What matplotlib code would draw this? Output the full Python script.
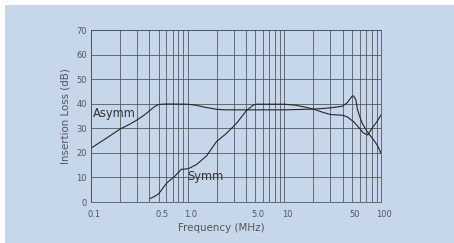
#!/usr/bin/env python3
import numpy as np
import matplotlib
matplotlib.use("Agg")
import matplotlib.pyplot as plt
from matplotlib.patches import Rectangle
from matplotlib.ticker import FixedLocator, NullFormatter
import matplotlib.transforms as mtransforms

# values
asymm_freq = [0.1, 0.15, 0.2, 0.25, 0.3, 0.35, 0.4, 0.45, 0.5, 0.6, 1.0,
              1.2, 1.5, 2.0, 2.5, 5.0, 10, 20, 30, 40, 45, 50, 52, 55, 57,
              60, 64, 72, 84, 92, 100]
asymm_db = [21.9, 26.4, 29.7, 31.6, 33.4, 35.2, 37.0, 38.7, 39.7, 39.9, 39.8,
            39.4, 38.6, 37.7, 37.5, 37.5, 37.5, 37.8, 38.3, 39.0, 40.5, 43.0,
            43.2, 41.5, 37.8, 35.0, 32.0, 28.6, 25.2, 23.0, 19.8]

symm_freq = [0.41, 0.45, 0.5, 0.61, 0.74, 0.86, 1.0, 1.06, 1.24, 1.57, 1.99,
             2.53, 3.2, 4.05, 4.76, 5.1, 10, 13, 16, 20, 25, 30, 40, 45, 52,
             60, 66, 73, 80, 90, 100]
symm_db = [1.4, 2.2, 3.3, 7.8, 10.6, 13.3, 13.5, 13.9, 15.3, 18.8, 24.6,
           28.0, 32.0, 37.2, 39.4, 39.8, 39.8, 39.4, 38.7, 37.8, 36.5, 35.6,
           35.3, 34.6, 32.7, 30.0, 28.0, 27.3, 29.8, 32.5, 35.4]

x_ticks = [0.1, 0.5, 1.0, 5.0, 10, 50, 100]
x_tick_labels = ["0.1", "0.5", "1.0", "5.0", "10", "50", "100"]
y_ticks = [0, 10, 20, 30, 40, 50, 60, 70]

BG = "#c6d6eb"
GRID = "#4d4d4d"
TEXT = "#555555"
CURVE = "#262626"

fig = plt.figure(figsize=(4.54, 2.43), dpi=100)
fig.patch.set_facecolor(BG)
# thin white strips along the top and left edges only
fig.patches.append(Rectangle((0, 238 / 243), 1, 5 / 243,
                             transform=fig.transFigure, facecolor="white",
                             edgecolor="none", zorder=-10))
fig.patches.append(Rectangle((0, 0), 5 / 454, 1,
                             transform=fig.transFigure, facecolor="white",
                             edgecolor="none", zorder=-10))

ax = fig.add_axes([91 / 454, 41 / 243, 290 / 454, 172 / 243])
ax.set_zorder(1)
ax.set_facecolor(BG)
ax.set_xscale("log")
ax.set_xlim(0.1, 100)
ax.set_ylim(0, 70)

minor = [m * 10.0 ** e for e in (-1, 0, 1) for m in range(2, 10)]
ax.xaxis.set_major_locator(FixedLocator(x_ticks))
ax.xaxis.set_minor_locator(FixedLocator(minor))
ax.xaxis.set_minor_formatter(NullFormatter())
ax.set_xticks(x_ticks)
ax.set_xticklabels(x_tick_labels)
ax.set_yticks(y_ticks)

ax.grid(True, which="both", axis="x", color=GRID, lw=0.55)
ax.grid(True, which="major", axis="y", color=GRID, lw=0.55)
for s in ax.spines.values():
    s.set_color(GRID)
    s.set_linewidth(0.55)

ax.tick_params(which="both", length=0)
ax.tick_params(axis="x", labelsize=6, labelcolor=TEXT, pad=6)
ax.tick_params(axis="y", labelsize=6, labelcolor=TEXT, pad=3)

# x labels sit a little right of their grid lines
shift = mtransforms.ScaledTranslation(3 / 100, 0, fig.dpi_scale_trans)
for lab in ax.get_xticklabels():
    lab.set_transform(lab.get_transform() + shift)

ax.plot(asymm_freq, asymm_db, color=CURVE, lw=0.8)
ax.plot(symm_freq, symm_db, color=CURVE, lw=0.8)

ax.text(0.104, 36.0, "Asymm", fontsize=8.3, color="#333333",
        ha="left", va="center")
ax.text(1.0, 10.5, "Symm", fontsize=8.3, color="#333333",
        ha="left", va="center")

ax.set_xlabel("Frequency (MHz)", fontsize=7.4, color=TEXT)
ax.xaxis.set_label_coords(0.45, -0.12)
ax.set_ylabel("Insertion Loss (dB)", fontsize=7.4, color=TEXT)
ax.yaxis.set_label_coords(-0.072, 0.5)

fig.savefig("out.png", dpi=100, facecolor=fig.get_facecolor())
